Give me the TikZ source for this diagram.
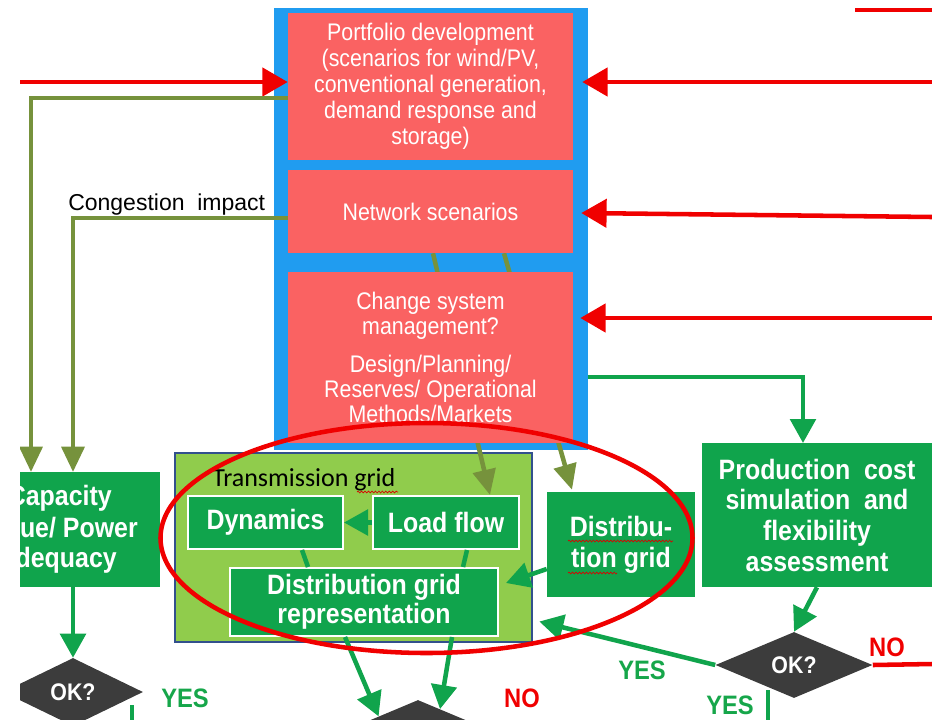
\documentclass[tikz,border=0pt]{standalone}
\usepackage{fontspec}
\setmainfont{Liberation Sans}[FakeStretch=0.89]
\newfontfamily\labelfont{Liberation Sans}
\newfontfamily\gridfont{Carlito}
\usetikzlibrary{arrows.meta,calc,shapes.geometric,decorations.pathmorphing}
\pgfdeclarelayer{bg}
\pgfdeclarelayer{mid}
\pgfsetlayers{bg,mid,main}

\definecolor{frameblue}{RGB}{32,156,240}
\definecolor{salmon}{RGB}{250,98,98}
\definecolor{arrowred}{RGB}{240,0,0}
\definecolor{boxgreen}{RGB}{16,164,76}
\definecolor{lightgreen}{RGB}{144,204,76}
\definecolor{edgeblue}{RGB}{50,80,140}
\definecolor{olive}{RGB}{118,146,60}
\definecolor{darkgray}{RGB}{60,60,60}
\definecolor{textgreen}{RGB}{22,166,74}

\tikzset{
  pxsize/.style 2 args={minimum width=#1*0.75pt, minimum height=#2*0.75pt},
  redbox/.style={fill=salmon, text=white, inner sep=0, align=center,
    font=\fontsize{18pt}{19.5pt}\selectfont},
  gbox/.style={fill=boxgreen, text=white, inner sep=0, align=center,
    font=\bfseries\fontsize{21pt}{23pt}\selectfont},
  wbox/.style={gbox, draw=white, line width=1.5pt},
  okdiam/.style={diamond, aspect=2.4, fill=darkgray, text=white, inner sep=0,
    font=\bfseries\fontsize{18pt}{18pt}\selectfont},
  conn/.style={line width=3.4pt},
  redarr/.style={conn, draw=arrowred, -{Triangle[length=19pt,width=21pt]}},
  grnarr/.style={conn, draw=boxgreen, -{Triangle[length=18pt,width=19pt]}},
  olvarr/.style={conn, draw=olive, -{Triangle[length=19pt,width=17pt]}},
  grnline/.style={conn, draw=boxgreen},
  captext/.style={anchor=east, inner sep=0, text=white,
    font=\bfseries\fontsize{21pt}{21pt}\selectfont},
  yestext/.style={text=textgreen, inner sep=0, font=\bfseries\fontsize{20pt}{20pt}\selectfont},
  notext/.style={yestext, text=arrowred},
  squiggle/.style={draw=red!85!black, line width=0.5pt, decorate,
    decoration={snake, amplitude=0.7pt, segment length=2.6pt}},
}

\begin{document}
\begin{tikzpicture}[x=0.75pt, y=-0.75pt]
\useasboundingbox (0,0) rectangle (932,719);
\clip (20,0) rectangle (932,719);

% --- frame and grid container (bottom layer)
\begin{pgfonlayer}{bg}
  \node[fill=frameblue, inner sep=0, pxsize={314}{442}] (frame) at (431,229) {};
  \node[fill=lightgreen, draw=edgeblue, line width=2pt, inner sep=0,
        pxsize={357}{189}] (tgrid) at (353.5,547.5) {};
\end{pgfonlayer}

% --- red scenario boxes
\node[redbox, pxsize={285}{147}] (box1) at (430.5,86.5)
  {Portfolio development\\(scenarios for wind/PV,\\conventional generation,\\demand response and\\storage)};
\node[redbox, pxsize={285}{83}] (box2) at (430.5,211.5) {Network scenarios};
\node[redbox, pxsize={285}{171}, font=\fontsize{18pt}{18.6pt}\selectfont] (box3) at (430.5,357.5)
  {Change system\\management?\\[10pt]Design/Planning/\\Reserves/ Operational\\Methods/Markets};

% --- green analysis boxes
\node[anchor=west, inner sep=0, font=\gridfont\fontsize{19.5pt}{19.5pt}\selectfont] (tlabel) at (212,480) {Transmission grid};
\node[wbox, pxsize={155}{53}] (dyn) at (265.5,522.5) {Dynamics};
\node[wbox, pxsize={146}{53}] (load) at (446,522.5) {Load flow};
\node[wbox, pxsize={268}{68}, font=\bfseries\fontsize{21pt}{22pt}\selectfont] (repr) at (364,602)
  {Distribution grid\\representation};
\node[gbox, pxsize={148}{105}] (dist) at (621,544.5) {Distribu-\\tion grid};
\node[gbox, pxsize={230}{144}] (prod) at (817,515)
  {Production\ \ cost\\simulation\ \ and\\flexibility\\assessment};
\node[gbox, pxsize={160}{115}] (cap) at (80,529.5) {};
\node[captext] (capA) at (112,498) {Capacity};
\node[captext] (capB) at (138,528) {ue/ Power};
\node[captext] (capC) at (117,560) {dequacy};

% --- decision diamonds
\node[okdiam, minimum width=105pt, minimum height=51pt] (ok1) at (73,692) {OK?};
\node[okdiam, minimum width=117.75pt, minimum height=49.5pt] (ok2) at (794,665) {OK?};
\node[okdiam, minimum width=117.75pt, minimum height=49.5pt] (ok3) at (418,733) {};

% --- free ends of connectors
\coordinate (inL) at (20,82);
\coordinate (inR1) at (932,82);
\coordinate (inR2) at (932,217);
\coordinate (inR3) at (932,318);
\coordinate (topA) at (855,10);
\coordinate (topB) at (932,10);
\coordinate (capL) at (31,472);
\coordinate (capR) at (73,472);
\coordinate (prodIn) at (803,443);
\coordinate (noEnd) at (932,664);
\coordinate (yesA1) at (132,705);
\coordinate (yesA2) at (132,725);
\coordinate (yesB1) at (768,690);
\coordinate (yesB2) at (768,725);

% --- olive feeds running behind the management box
\begin{pgfonlayer}{mid}
  \draw[olvarr] ($(box2.south)+(2.5,0)$) -- ($(load.north east)+(-30,0)$);
  \draw[olvarr] ($(box2.south)+(73.5,0)$) -- ($(dist.north)+(-49,-2)$);
\end{pgfonlayer}

% --- red inputs
\draw[redarr] (inL) -- (inL -| box1.west);
\draw[redarr] (inR1) -- ($(inR1 -| box1.east)+(9,0)$);
\draw[redarr] (inR2) -- ($(box2.east)+(8,1.5)$);
\draw[redarr] (inR3) -- ($(box3.east)+(7,-39.5)$);
\draw[conn, draw=arrowred] (topA) -- (topB);

% --- olive feeds to capacity value
\draw[olvarr] ($(box1.west)+(0,11.5)$) -| (capL);
\draw[olvarr] ($(box2.west)+(0,6.5)$) -| (capR);
\node[anchor=west, inner sep=0, font=\labelfont\fontsize{17.25pt}{17.25pt}\selectfont] (cong) at (68,205) {Congestion\ \ impact};

% --- green flow
\draw[grnarr] ($(frame.east)+(0,148)$) -| (prodIn);
\draw[grnarr] (load.west) -- (dyn.east);
\draw[grnline] ($(dyn.south)+(36.5,0)$) -- ($(repr.north)+(-56,0)$);
\draw[grnline] ($(load.south)+(21,0)$) -- ($(repr.north)+(99,0)$);
\draw[grnarr] ($(dist.west)+(0,24.5)$) -- ($(repr.east)+(7,-19)$);
\draw[grnarr] (prod.south) -- (ok2.north);
\draw[grnarr] (ok2.west) -- ($(tgrid.east)+(6,74)$);
\draw[grnarr] ($(repr.south)+(-19,0)$) -- (ok3.north west);
\draw[grnarr] ($(repr.south)+(88,0)$) -- ($(ok3.north)!0.28!(ok3.east)$);
\draw[grnarr] (cap.south -| ok1.north) -- (ok1.north);
\draw[grnline] (yesA1) -- (yesA2);
\draw[grnline] (yesB1) -- (yesB2);
\draw[conn, draw=arrowred] (ok2.east) -- (noEnd);

% --- decision labels
\node[yestext] (yes1) at (185,698) {YES};
\node[notext] (no1) at (522,698) {NO};
\node[yestext] (yes2) at (642,670) {YES};
\node[notext] (no2) at (887,647) {NO};
\node[yestext] (yes3) at (730,705) {YES};

% --- spelling marks under words
\draw[squiggle] (568,541) -- (673,541);
\draw[squiggle] (568,573) -- (617,573);
\draw[squiggle] (357,492) -- (398,492);

% --- highlight ring around the grid studies
\draw[draw=arrowred, line width=3.4pt] (426.5,538) ellipse [x radius=199.5pt, y radius=86.25pt];
\end{tikzpicture}
\end{document}
